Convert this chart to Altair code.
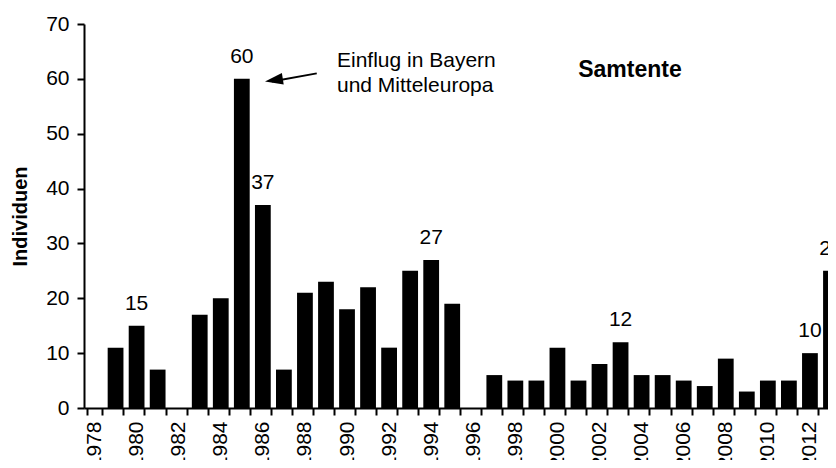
import altair as alt
import pandas as pd

# ---- data ----
years = list(range(1978, 2014))
individuals = [0, 11, 15, 7, 0, 17, 20, 60, 37, 7, 21, 23, 18, 22, 11, 25, 27, 19,
               0, 6, 5, 5, 11, 5, 8, 12, 6, 6, 5, 4, 9, 3, 5, 5, 10, 25]
labeled_years = [1980, 1985, 1986, 1994, 2003, 2012, 2013]

annotation_text = ["Einflug in Bayern\nund Mitteleuropa"]
species_title = ["Samtente"]

FONT = "Liberation Sans"
FS = 21

df = pd.DataFrame({"Jahr": years, "Individuen": individuals})
lab = df[df["Jahr"].isin(labeled_years)]

xscale = alt.Scale(domain=years, range=[0, 757.5], paddingInner=0.25, paddingOuter=0.125)
yscale = alt.Scale(domain=[0, 70], nice=False)

x_enc = alt.X("Jahr:O", scale=xscale, sort=years,
              axis=alt.Axis(title=None, labelAngle=-90, tickBand="extent",
                            labelExpr="datum.value % 2 == 0 ? datum.label : ''",
                            labelFontSize=FS, labelPadding=6, tickSize=7,
                            labelFont=FONT, labelColor="black"))
y_enc = alt.Y("Individuen:Q", scale=yscale,
              axis=alt.Axis(title="Individuen", values=list(range(0, 71, 10)),
                            labelFontSize=FS, labelPadding=8, tickSize=7,
                            titleFontSize=20, titleFontWeight="bold", titlePadding=15,
                            labelFont=FONT, titleFont=FONT, labelColor="black",
                            titleColor="black", grid=False))

bars = alt.Chart(df).mark_bar(color="black").encode(x=x_enc, y=y_enc)

labels = alt.Chart(lab).mark_text(font=FONT, fontSize=FS, dy=-16, baseline="alphabetic",
                                  color="black").encode(
    x=alt.X("Jahr:O", scale=xscale, sort=years),
    y=alt.Y("Individuen:Q", scale=yscale),
    text="Individuen:Q")

# annotation (anchored in data space)
arrow_df = pd.DataFrame({"Jahr": [1985], "Jahr2": [1988], "y": [59.5], "y2": [61.0]})
arrow_line = alt.Chart(arrow_df).mark_rule(color="black", strokeWidth=2, xOffset=30,
                                           x2Offset=11.8).encode(
    x=alt.X("Jahr:O", scale=xscale, sort=years),
    x2="Jahr2:O",
    y=alt.Y("y:Q", scale=yscale),
    y2="y2:Q")
arrow_head = alt.Chart(arrow_df).mark_point(
    shape="M0,0 L2,-0.65 L2,0.65 Z", size=324, angle=351, filled=True,
    color="black", opacity=1, xOffset=23.2).encode(
    x=alt.X("Jahr:O", scale=xscale, sort=years),
    y=alt.Y("y:Q", scale=yscale))

note_df = pd.DataFrame({"Jahr": [1989], "y": [62.2], "t": annotation_text})
note = alt.Chart(note_df).mark_text(font=FONT, fontSize=FS, align="left",
                                    baseline="alphabetic", dx=11, lineBreak="\n",
                                    lineHeight=25.5, color="black").encode(
    x=alt.X("Jahr:O", scale=xscale, sort=years),
    y=alt.Y("y:Q", scale=yscale),
    text="t:N")

title_df = pd.DataFrame({"Jahr": [2004], "y": [60.4], "t": species_title})
title = alt.Chart(title_df).mark_text(font=FONT, fontSize=23, fontWeight="bold",
                                      align="center", baseline="alphabetic", dx=-11.6,
                                      color="black").encode(
    x=alt.X("Jahr:O", scale=xscale, sort=years),
    y=alt.Y("y:Q", scale=yscale),
    text="t:N")

chart = alt.layer(bars, labels, arrow_line, arrow_head, note, title).properties(
    width=744, height=384,
    autosize=alt.AutoSizeParams(type="none"),
    padding={"left": 76, "top": 16, "right": 0, "bottom": 52},
).configure_view(stroke=None).configure_axis(
    domainColor="black", domainWidth=2, tickColor="black", tickWidth=2
)

chart.save("out.html", embed_options={"renderer": "svg", "actions": False})
